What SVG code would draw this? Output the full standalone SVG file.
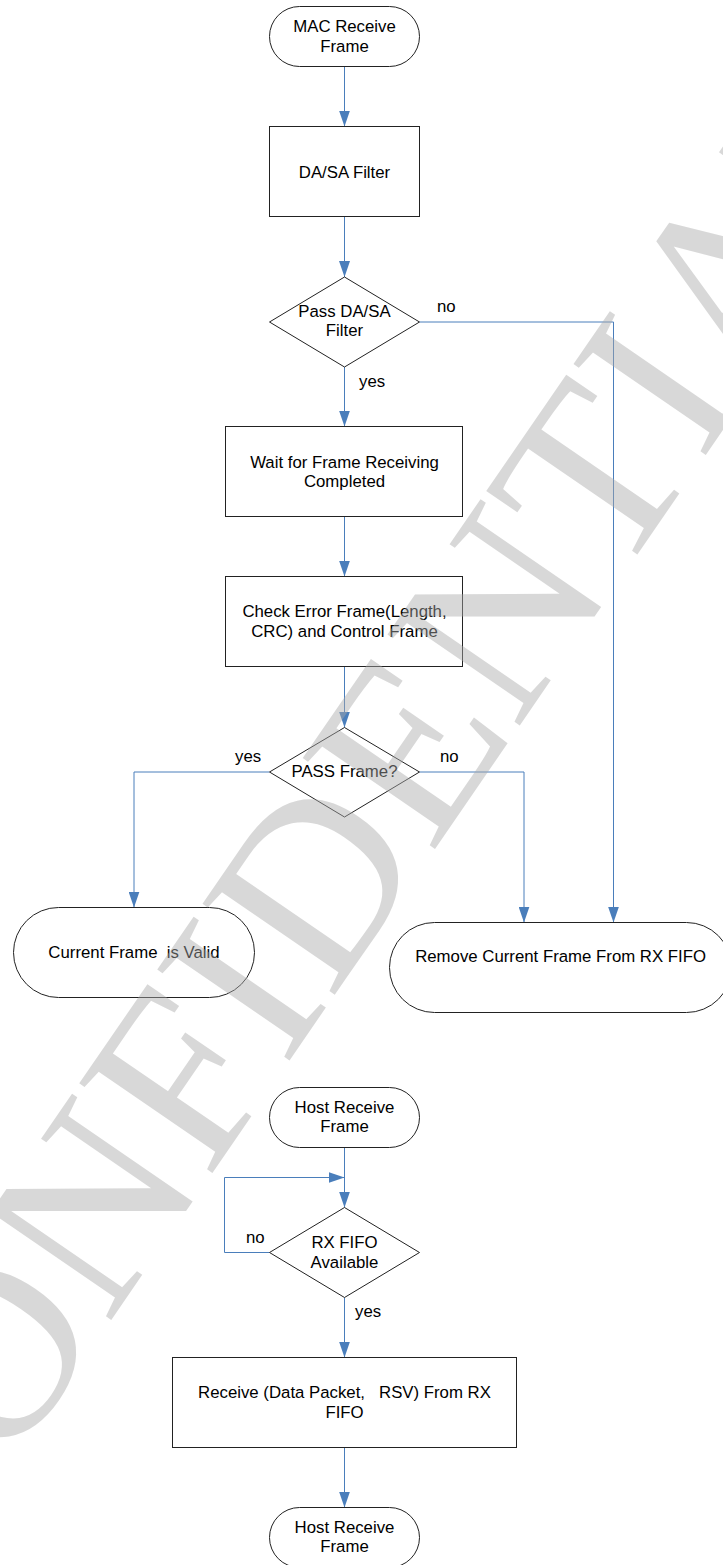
<svg xmlns="http://www.w3.org/2000/svg" width="723" height="1565" viewBox="0 0 723 1565">
<style>
.n{fill:#fff;stroke:#222;stroke-width:1}
.t{font-family:"Liberation Sans",Arial,sans-serif;font-size:16.8px;fill:#000;text-anchor:middle;white-space:pre}
.l{font-family:"Liberation Sans",Arial,sans-serif;font-size:16.8px;fill:#000}
.c{fill:none;stroke:#4a7ebb;stroke-width:1}
.wm{font-family:"Liberation Serif","Times New Roman",serif;font-size:245px;fill:#aaaaaa;opacity:0.45}
</style>
<defs>
<marker id="ah" markerUnits="userSpaceOnUse" viewBox="0 0 16 11" refX="16" refY="5.5" markerWidth="16" markerHeight="11" orient="auto">
<path d="M0,0 L16,5.5 L0,11 z" fill="#4a7ebb"/>
</marker>
</defs>
<rect width="723" height="1565" fill="#fff"/>
<g id="connectors">
<path class="c" marker-end="url(#ah)" d="M344.5,66.5 V126.5"/>
<path class="c" marker-end="url(#ah)" d="M344.5,216.5 V277"/>
<path class="c" marker-end="url(#ah)" d="M419.5,322 H613.5 V922.5"/>
<path class="c" marker-end="url(#ah)" d="M344.5,367 V426.5"/>
<path class="c" marker-end="url(#ah)" d="M344.5,516.5 V576.5"/>
<path class="c" marker-end="url(#ah)" d="M344.5,666.5 V727.5"/>
<path class="c" marker-end="url(#ah)" d="M269.5,772 H134 V907.5"/>
<path class="c" marker-end="url(#ah)" d="M419.5,772 H524 V922.5"/>
<path class="c" marker-end="url(#ah)" d="M344.5,1147.5 V1207.5"/>
<path class="c" marker-end="url(#ah)" d="M269.5,1252.5 H224.5 V1177.5 H344.5"/>
<path class="c" marker-end="url(#ah)" d="M344.5,1297.5 V1357.5"/>
<path class="c" marker-end="url(#ah)" d="M344.5,1447.5 V1507.5"/>
<text class="l" x="437" y="311.7">no</text>
<text class="l" x="359" y="386.7">yes</text>
<text class="l" x="235" y="761.7">yes</text>
<text class="l" x="440" y="761.7">no</text>
<text class="l" x="246" y="1242.7">no</text>
<text class="l" x="355" y="1317.3">yes</text>
</g>
<g id="mac-receive">
<rect class="n" x="269.5" y="6.5" width="150" height="60" rx="30"/>
<text class="t" x="344.5" y="32.3">MAC Receive</text>
<text class="t" x="344.5" y="51.7">Frame</text>
</g>
<g id="dasa-filter">
<rect class="n" x="269.5" y="126.5" width="150" height="90"/>
<text class="t" x="344.5" y="178">DA/SA Filter</text>
</g>
<g id="pass-dasa">
<polygon class="n" points="269.5,322 344.5,277 419.5,322 344.5,367"/>
<text class="t" x="344.5" y="316.5">Pass DA/SA</text>
<text class="t" x="344.5" y="336">Filter</text>
</g>
<g id="wait-frame">
<rect class="n" x="225.5" y="426.5" width="237" height="90"/>
<text class="t" x="344.5" y="467.5">Wait for Frame Receiving</text>
<text class="t" x="344.5" y="487">Completed</text>
</g>
<g id="check-error">
<rect class="n" x="225.5" y="576.5" width="237" height="90"/>
<text class="t" x="344.5" y="617">Check Error Frame(Length,</text>
<text class="t" x="344.5" y="636.5">CRC) and Control Frame</text>
</g>
<g id="pass-frame">
<polygon class="n" points="269.5,772 344.5,727.5 419.5,772 344.5,817"/>
<text class="t" x="344.5" y="777">PASS Frame?</text>
</g>
<g id="frame-valid">
<rect class="n" x="13.5" y="907.5" width="241" height="90" rx="45"/>
<text class="t" x="134" y="958">Current Frame  is Valid</text>
</g>
<g id="remove-frame">
<rect class="n" x="389.5" y="922.5" width="342" height="90" rx="45"/>
<text class="t" x="560.6" y="962">Remove Current Frame From RX FIFO</text>
</g>
<g id="host-receive-1">
<rect class="n" x="269.5" y="1087.5" width="150" height="60" rx="30"/>
<text class="t" x="344.5" y="1112.7">Host Receive</text>
<text class="t" x="344.5" y="1132.3">Frame</text>
</g>
<g id="fifo-available">
<polygon class="n" points="269.5,1252.5 344.5,1207.5 419.5,1252.5 344.5,1297.5"/>
<text class="t" x="344.5" y="1248.3">RX FIFO</text>
<text class="t" x="344.5" y="1267.7">Available</text>
</g>
<g id="receive-data">
<rect class="n" x="172.5" y="1357.5" width="344" height="90"/>
<text class="t" x="344.5" y="1398.3">Receive (Data Packet,   RSV) From RX</text>
<text class="t" x="344.5" y="1417.7">FIFO</text>
</g>
<g id="host-receive-2">
<rect class="n" x="269.5" y="1507.5" width="150" height="60" rx="30"/>
<text class="t" x="344.5" y="1532.7">Host Receive</text>
<text class="t" x="344.5" y="1552.3">Frame</text>
</g>
<text class="wm" transform="translate(-85.6,1606.3) rotate(-55.5)">CONFIDENTIAL</text>
</svg>
